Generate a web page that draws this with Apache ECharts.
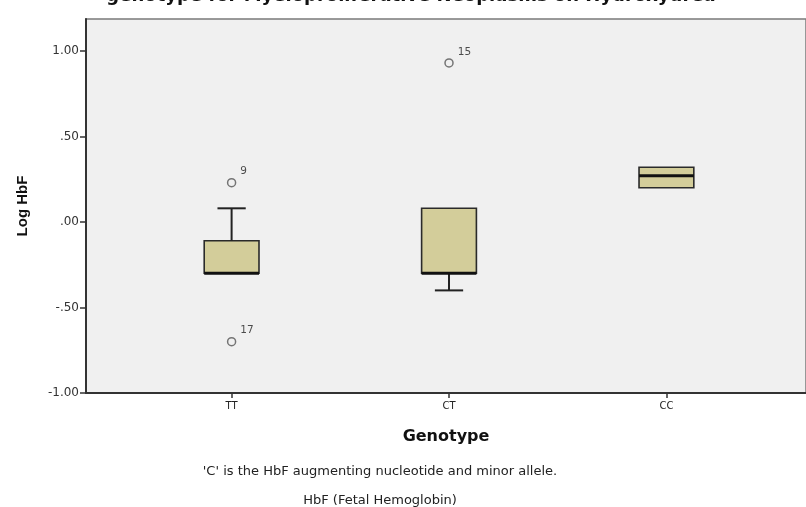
<!DOCTYPE html>
<html>
<head>
<meta charset="utf-8">
<script src="https://cdn.jsdelivr.net/npm/echarts@6/dist/echarts.min.js"></script>
<style>html,body{margin:0;padding:0;background:#fff}#c{width:806px;height:507px}</style>
</head>
<body>
<div id="c"></div>
<script>
var categories = ['TT', 'CT', 'CC'];
var whiskerLow = [-0.30, -0.40, 0.20];
var q1 = [-0.30, -0.30, 0.20];
var median = [-0.30, -0.30, 0.27];
var q3 = [-0.11, 0.08, 0.32];
var whiskerHigh = [0.08, 0.08, 0.32];
var outlierCat = [0, 0, 1];
var outlierValue = [0.23, -0.70, 0.93];
var outlierLabel = ['9', '17', '15'];
var yTicks = [-1, -0.5, 0, 0.5, 1];

var FONT = '"DejaVu Sans", Arial, sans-serif';
var FONT_NARROW = '"Liberation Sans", Arial, sans-serif';

var boxData = categories.map(function (c, i) {
  return [i + 1, whiskerLow[i], q1[i], median[i], q3[i], whiskerHigh[i]];
});
var outData = outlierValue.map(function (v, i) {
  return { value: [outlierCat[i] + 1, v], name: outlierLabel[i] };
});

function renderBox(params, api) {
  var x = api.value(0);
  var lo = api.coord([x, api.value(1)]);
  var b1 = api.coord([x, api.value(2)]);
  var md = api.coord([x, api.value(3)]);
  var b3 = api.coord([x, api.value(4)]);
  var hi = api.coord([x, api.value(5)]);
  var bw = api.size([0.252, 0])[0];
  var cw = api.size([0.13, 0])[0];
  var cx = b1[0];
  var children = [];
  children.push({
    type: 'rect',
    shape: { x: cx - bw / 2, y: b3[1], width: bw, height: b1[1] - b3[1] },
    style: { fill: '#d3cd9a', stroke: '#2a2a2a', lineWidth: 1.6 }
  });
  if (hi[1] < b3[1] - 0.5) {
    children.push({ type: 'line', shape: { x1: cx, y1: b3[1], x2: cx, y2: hi[1] }, style: { stroke: '#222', lineWidth: 2 } });
    children.push({ type: 'line', shape: { x1: cx - cw / 2, y1: hi[1], x2: cx + cw / 2, y2: hi[1] }, style: { stroke: '#222', lineWidth: 2 } });
  }
  if (lo[1] > b1[1] + 0.5) {
    children.push({ type: 'line', shape: { x1: cx, y1: b1[1], x2: cx, y2: lo[1] }, style: { stroke: '#222', lineWidth: 2 } });
    children.push({ type: 'line', shape: { x1: cx - cw / 2, y1: lo[1], x2: cx + cw / 2, y2: lo[1] }, style: { stroke: '#222', lineWidth: 2 } });
  }
  children.push({ type: 'line', shape: { x1: cx - bw / 2, y1: md[1], x2: cx + bw / 2, y2: md[1] }, style: { stroke: '#111', lineWidth: 3 } });
  return { type: 'group', children: children };
}

var chart = echarts.init(document.getElementById('c'), null, { renderer: 'canvas' });
chart.setOption({
  backgroundColor: '#ffffff',
  animation: false,
  title: [
    { text: 'genotype for Myeloproliferative Neoplasms on Hydroxyurea', left: 406, top: -18, textAlign: 'center',
      textStyle: { fontFamily: FONT, fontSize: 18, fontWeight: 'bold', color: '#111' } },
    { text: "'C' is the HbF augmenting nucleotide and minor allele.", left: 375, top: 460, textAlign: 'center',
      textStyle: { fontFamily: FONT, fontSize: 13, fontWeight: 'normal', color: '#222' } },
    { text: 'HbF (Fetal Hemoglobin)', left: 375, top: 489, textAlign: 'center',
      textStyle: { fontFamily: FONT, fontSize: 13, fontWeight: 'normal', color: '#222' } }
  ],
  grid: { left: 86, top: 19, right: -2, bottom: 114, show: true, backgroundColor: '#f0f0f0', borderColor: '#7a7a7a', borderWidth: 1.5 },
  xAxis: {
    type: 'value', min: 0.3303, max: 3.642,
    name: 'Genotype', nameLocation: 'middle', nameGap: 36,
    nameTextStyle: { fontFamily: FONT, fontSize: 16, fontWeight: 'bold', color: '#111' },
    axisLine: { show: true, onZero: false, lineStyle: { color: '#333', width: 2 } },
    axisTick: { show: true, customValues: [1, 2, 3], length: 5, lineStyle: { color: '#333', width: 1.5 } },
    axisLabel: { customValues: [1, 2, 3], formatter: function (v) { return categories[Math.round(v) - 1] || ''; },
      fontFamily: FONT, fontSize: 10, color: '#222', margin: 8 },
    splitLine: { show: false }
  },
  yAxis: {
    type: 'value', min: -1, max: 1.187,
    name: 'Log HbF', nameLocation: 'middle', nameRotate: 90, nameGap: 56,
    nameTextStyle: { fontFamily: FONT_NARROW, fontSize: 15, fontWeight: 'bold', color: '#111' },
    axisLine: { show: true, onZero: false, lineStyle: { color: '#333', width: 2 } },
    axisTick: { show: true, customValues: yTicks, length: 6, lineStyle: { color: '#333', width: 1.5 } },
    axisLabel: { customValues: yTicks, formatter: function (v) { return v.toFixed(2).replace(/^(-?)0\./, '$1.'); },
      fontFamily: FONT, fontSize: 12, color: '#333', margin: 7 },
    splitLine: { show: false }
  },
  series: [
    { type: 'custom', renderItem: renderBox, data: boxData, encode: { x: 0, y: [1, 2, 3, 4, 5] }, clip: false, z: 3 },
    { type: 'scatter', data: outData, symbol: 'circle', symbolSize: 8,
      itemStyle: { color: 'rgba(0,0,0,0)', borderColor: '#555', borderWidth: 1.5 },
      label: { show: true, position: 'right', offset: [-1, -11], formatter: function (p) { return p.name; },
        fontFamily: FONT, fontSize: 10.5, color: '#222' }, z: 4 }
  ]
});
</script>
</body>
</html>
